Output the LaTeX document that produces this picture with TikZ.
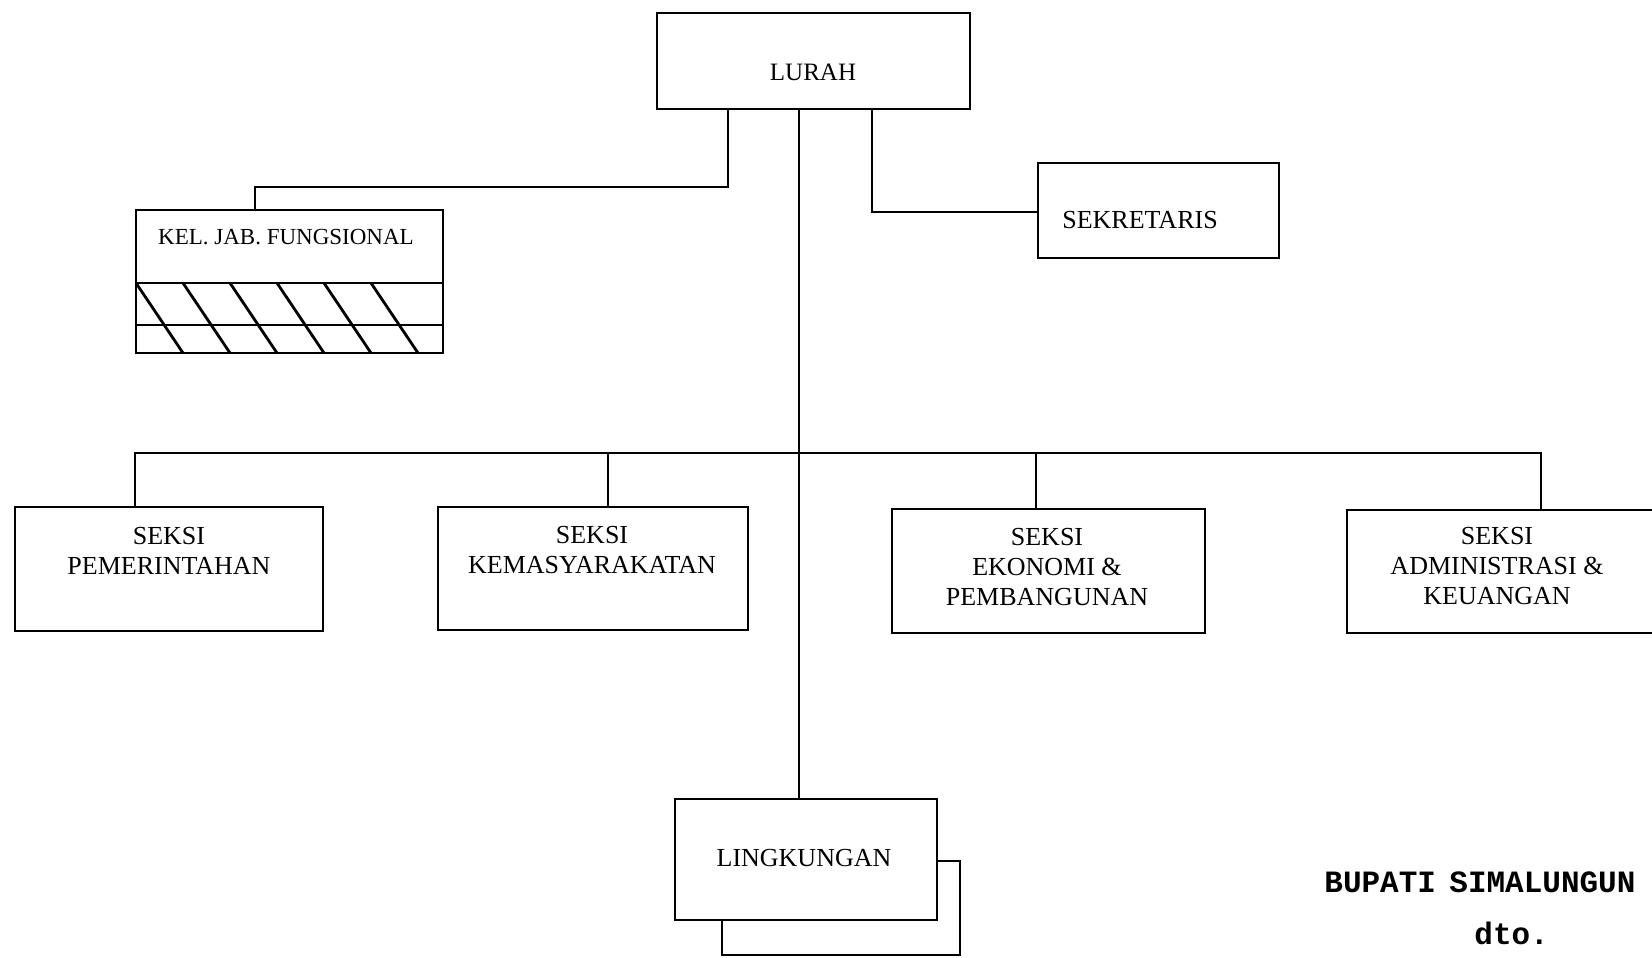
\documentclass[tikz,border=0pt]{standalone}
\usepackage{fontspec}
\setmainfont{Liberation Serif}
\newfontfamily\typew{Liberation Mono}
\usetikzlibrary{fit}
\begin{document}
\begin{tikzpicture}[x=0.5pt,y=-0.5pt, line width=1.4pt, line join=miter,
  box/.style={draw, inner sep=0pt, fill=white},
  lbl/.style={font=\fontsize{13}{14.8}\selectfont, align=center, inner sep=0pt},
  tw/.style={font=\typew\bfseries\fontsize{15.5}{18}\selectfont, inner sep=0pt, anchor=base west}]
\useasboundingbox (0,0) rectangle (1652,957);
% boxes
\node[box, fit={(657,13)(970,109)}] (lurah) {};
\node[box, fit={(136,210)(443,353)}] (kel) {};
\node[box, fit={(1038,163)(1279,258)}] (sek) {};
\node[box, fit={(15,507)(323,631)}] (pem) {};
\node[box, fit={(438,507)(748,630)}] (kem) {};
\node[box, fit={(892,509)(1205,633)}] (eko) {};
\node[box, fit={(1347,510)(1662,633)}] (adm) {};
\node[box, fit={(722,861)(960,955)}] (lingb) {};
\node[box, fit={(675,799)(937,920)}] (ling) {};
% hatch in KEL. JAB. FUNGSIONAL
\draw (136,283) -- (443,283);
\draw (136,325) -- (443,325);
\foreach \k in {0,...,5} {
  \draw ({136+47*\k},283) -- ({183+47*\k},353);
}
% labels
\node[lbl, font=\fontsize{12.5}{14}\selectfont] (tlurah) at (813,72) {LURAH};
\node[lbl, font=\fontsize{11.5}{13}\selectfont] (tkel) at (286,237) {KEL. JAB. FUNGSIONAL};
\node[lbl] (tsek) at (1140,220) {SEKRETARIS};
\node[lbl] (tpem) at (169,551) {SEKSI\\PEMERINTAHAN};
\node[lbl] (tkem) at (592,550) {SEKSI\\KEMASYARAKATAN};
\node[lbl] (teko) at (1047,567) {SEKSI\\EKONOMI \&\\PEMBANGUNAN};
\node[lbl] (tadm) at (1497,566) {SEKSI\\ADMINISTRASI \&\\KEUANGAN};
\node[lbl] (tling) at (804,858) {LINGKUNGAN};
\node[tw] (tbup) at (1323,892) {BUPATI};
\node[tw] (tsim) at (1448,892) {SIMALUNGUN};
\node[tw] (tdto) at (1473,944) {dto.};
% connectors
\coordinate (jA) at (728,187);
\coordinate (jB) at (255,187);
\coordinate (jS) at (872,212);
\coordinate (jL) at (799,454);
\coordinate (bP) at (135,453);
\coordinate (bK) at (608,453);
\coordinate (bE) at (1036,453);
\coordinate (bA) at (1541,453);
\draw (lurah.south -| jA) -- (jA) -- (jB) -- (kel.north -| jB);
\draw (lurah.south -| jS) -- (jS) -- (sek.west |- jS);
\draw (lurah.south -| jL) -- (ling.north -| jL);
\draw (pem.north -| bP) -- (bP) -- (bA) -- (adm.north -| bA);
\draw (bK) -- (kem.north -| bK);
\draw (bE) -- (eko.north -| bE);
\end{tikzpicture}
\end{document}
